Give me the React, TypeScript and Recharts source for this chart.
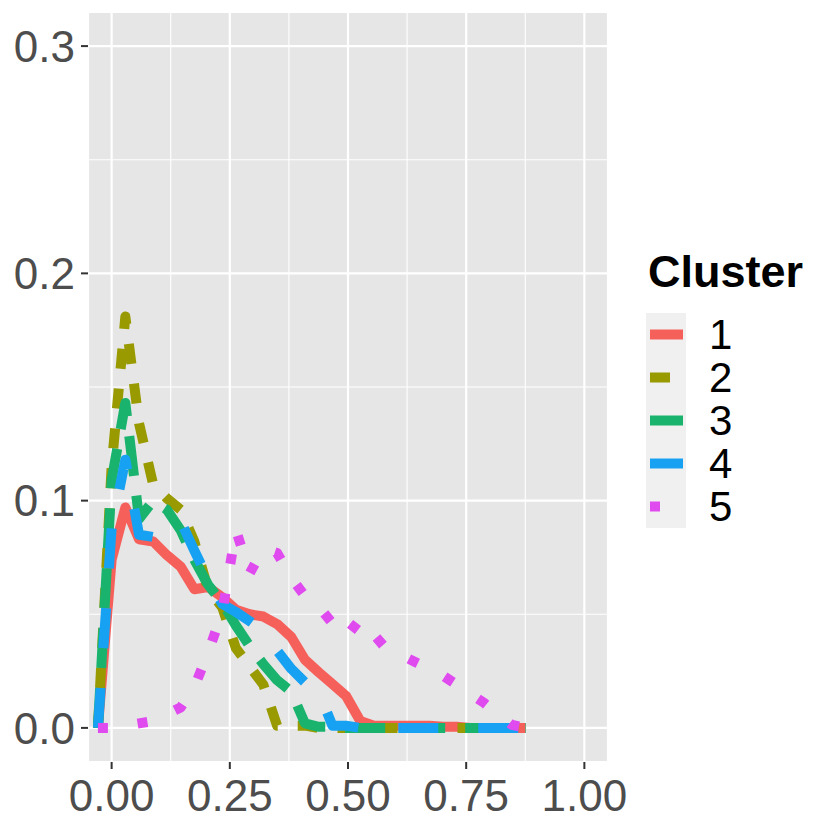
import { CartesianGrid, Line, LineChart, ReferenceLine, XAxis, YAxis } from 'recharts';

// bin centres of the frequency polygon (first and last are the zero pads)
const binX = [
  -0.029, 0, 0.029, 0.058, 0.088, 0.117, 0.146, 0.175, 0.204, 0.234, 0.263, 0.292, 0.321, 0.35, 0.38, 0.409,
  0.438, 0.467, 0.496, 0.526, 0.555, 0.584, 0.613, 0.642, 0.672, 0.701, 0.73, 0.759, 0.788, 0.818, 0.847, 0.876,
];

const cluster1 = [
  0, 0.074, 0.097, 0.083, 0.082, 0.076, 0.071, 0.061, 0.062, 0.0575, 0.052, 0.05, 0.049, 0.0457, 0.04, 0.03,
  0.0245, 0.0193, 0.014, 0.003, 0.001, 0.001, 0.001, 0.001, 0.001, 0.0005, 0.0005, 0, 0, 0, 0, 0,
];
const cluster2 = [
  0, 0.115, 0.181, 0.134, 0.107, 0.101, 0.096, 0.082, 0.061, 0.053, 0.035, 0.027, 0.019, 0.001, 0.001, 0.001,
  0, 0, 0, 0, 0, 0, 0, 0, 0, 0, 0, 0, 0, 0, 0, 0,
];
const cluster3 = [
  0, 0.109, 0.143, 0.092, 0.1, 0.096, 0.087, 0.074, 0.063, 0.055, 0.045, 0.036, 0.028, 0.021, 0.016, 0.002,
  0.0005, 0.0005, 0, 0, 0, 0, 0, 0, 0, 0, 0, 0, 0, 0, 0, 0,
];
const cluster4 = [
  0, 0.088, 0.118, 0.085, 0.084, 0.088, 0.091, 0.078, 0.0655, 0.0545, 0.051, 0.047, 0.0426, 0.034, 0.026, 0.02,
  0.016, 0.001, 0.001, 0, 0, 0, 0, 0, 0, 0, 0, 0, 0, 0, 0, 0,
];
const cluster5 = [
  0, 0, 0.001, 0.002, 0.003, 0.006, 0.009, 0.018, 0.033, 0.051, 0.087, 0.068, 0.079, 0.077, 0.066, 0.058,
  0.0535, 0.046, 0.04, 0.048, 0.041, 0.034, 0.032, 0.029, 0.026, 0.023, 0.019, 0.015, 0.011, 0.006, 0.0013, 0,
];

const clusterNames = ['1', '2', '3', '4', '5'];
const clusterValues = [cluster1, cluster2, cluster3, cluster4, cluster5];

const xTicks = [0, 0.25, 0.5, 0.75, 1];
const xMinor = [0.125, 0.375, 0.625, 0.875];
const yTicks = [0, 0.1, 0.2, 0.3];
const yMinor = [0.05, 0.15, 0.25];

const COLORS = ['#F6605A', '#999900', '#1AB36D', '#17A1F2', '#E04BEF'];
// ggplot linetypes solid, 22, 42, 44, 13 scaled by the line width
const DASHES = [undefined, '20 20', '40 20', '40 40', '10 30'];
const FONT = "'Liberation Sans', Arial, Helvetica, sans-serif";

const data = binX.map((x, i) => {
  const row: Record<string, number> = { x };
  clusterNames.forEach((c, j) => {
    row[c] = clusterValues[j][i];
  });
  return row;
});

function ClusterLegend() {
  return (
    <svg
      width={831}
      height={831}
      style={{ position: 'absolute', left: 0, top: 0, pointerEvents: 'none' }}
      fontFamily={FONT}
    >
      <text x={648} y={287} fontSize={45} fontWeight="bold" fill="#000">
        Cluster
      </text>
      <rect x={646} y={313} width={40} height={215} fill="#F0F0F0" />
      {clusterNames.map((c, i) => {
        const cy = 313 + 43 * i + 21.5;
        return (
          <g key={c}>
            <line
              x1={650}
              x2={683}
              y1={cy}
              y2={cy}
              stroke={COLORS[i]}
              strokeWidth={10}
              strokeDasharray={DASHES[i]}
            />
            <text x={709} y={cy} dy="0.355em" fontSize={42} fill="#000">
              {c}
            </text>
          </g>
        );
      })}
    </svg>
  );
}

export default function App() {
  const tickStyle = { fill: '#4D4D4D', fontSize: 44, fontFamily: FONT };
  return (
    <div style={{ position: 'absolute', left: 0, top: 0, width: 831, height: 831, background: '#fff' }}>
      <LineChart width={831} height={831} data={data} margin={{ top: 12, right: 223, bottom: 0, left: 0 }}>
        <CartesianGrid stroke="#FFFFFF" strokeWidth={2.2} fill="#E6E6E6" fillOpacity={1} />
        {xMinor.map((v) => (
          <ReferenceLine key={`xm${v}`} x={v} stroke="#FFFFFF" strokeWidth={1.1} />
        ))}
        {yMinor.map((v) => (
          <ReferenceLine key={`ym${v}`} y={v} stroke="#FFFFFF" strokeWidth={1.1} />
        ))}
        <XAxis
          dataKey="x"
          type="number"
          domain={[-0.05, 1.05]}
          ticks={xTicks}
          interval={0}
          allowDataOverflow
          tickFormatter={(v) => Number(v).toFixed(2)}
          axisLine={false}
          tickLine={{ stroke: '#333333', strokeWidth: 2 }}
          tickSize={7}
          tickMargin={11}
          height={69}
          tick={tickStyle}
        />
        <YAxis
          type="number"
          domain={[-0.015, 0.315]}
          ticks={yTicks}
          interval={0}
          allowDataOverflow
          tickFormatter={(v) => Number(v).toFixed(1)}
          axisLine={false}
          tickLine={{ stroke: '#333333', strokeWidth: 2 }}
          tickSize={7}
          tickMargin={6}
          width={88}
          tick={tickStyle}
        />
        {clusterNames.map((c, i) => (
          <Line
            key={c}
            type="linear"
            dataKey={c}
            stroke={COLORS[i]}
            strokeWidth={10}
            strokeDasharray={DASHES[i]}
            strokeLinecap="butt"
            strokeLinejoin="round"
            dot={false}
            activeDot={false}
            isAnimationActive={false}
          />
        ))}
      </LineChart>
      <ClusterLegend />
    </div>
  );
}
